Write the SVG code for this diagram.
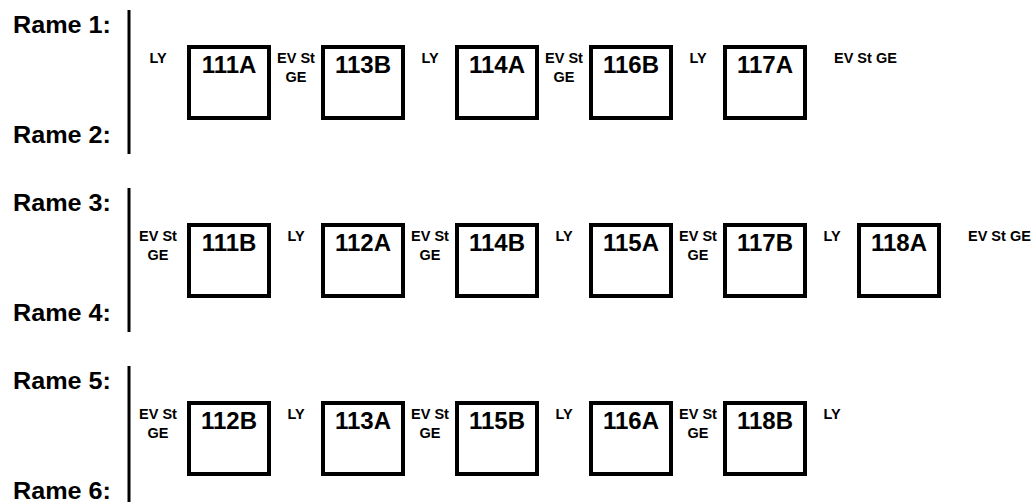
<svg xmlns="http://www.w3.org/2000/svg" width="1036" height="502" viewBox="0 0 1036 502">
<style>
text{font-family:"Liberation Sans",Arial,sans-serif;font-weight:bold;fill:#000}
.rame{font-size:23px}
.box{fill:#fff;stroke:#000;stroke-width:4}
.num{font-size:24px;text-anchor:middle}
.lbl{font-size:14.5px;text-anchor:middle}
.lbls{font-size:14.5px}
.sep{stroke:#000;stroke-width:3;fill:none}
</style>
<rect width="1036" height="502" fill="#fff"/>
<g id="row-labels">
<text class="rame" x="13" y="33" textLength="98" lengthAdjust="spacingAndGlyphs">Rame 1:</text>
<text class="rame" x="13" y="143" textLength="98" lengthAdjust="spacingAndGlyphs">Rame 2:</text>
<text class="rame" x="13" y="211" textLength="98" lengthAdjust="spacingAndGlyphs">Rame 3:</text>
<text class="rame" x="13" y="321" textLength="98" lengthAdjust="spacingAndGlyphs">Rame 4:</text>
<text class="rame" x="13" y="389" textLength="98" lengthAdjust="spacingAndGlyphs">Rame 5:</text>
<text class="rame" x="13" y="499" textLength="98" lengthAdjust="spacingAndGlyphs">Rame 6:</text>
</g>
<g id="connectors">
<line class="sep" x1="129" y1="10" x2="129" y2="154"/>
<line class="sep" x1="129" y1="188" x2="129" y2="332"/>
<line class="sep" x1="129" y1="366" x2="129" y2="502"/>
</g>
<!-- Row 1 -->
<g id="n111A"><rect class="box" x="189" y="47" width="80" height="71"/><text class="num" x="229" y="73">111A</text></g>
<g id="n113B"><rect class="box" x="323" y="47" width="80" height="71"/><text class="num" x="363" y="73">113B</text></g>
<g id="n114A"><rect class="box" x="457" y="47" width="80" height="71"/><text class="num" x="497" y="73">114A</text></g>
<g id="n116B"><rect class="box" x="591" y="47" width="80" height="71"/><text class="num" x="631" y="73">116B</text></g>
<g id="n117A"><rect class="box" x="725" y="47" width="80" height="71"/><text class="num" x="765" y="73">117A</text></g>
<g id="r1-labels">
<text class="lbl" x="158" y="63">LY</text>
<text class="lbl" x="296" y="63">EV St</text><text class="lbl" x="296" y="82">GE</text>
<text class="lbl" x="430" y="63">LY</text>
<text class="lbl" x="564" y="63">EV St</text><text class="lbl" x="564" y="82">GE</text>
<text class="lbl" x="698" y="63">LY</text>
<text class="lbls" x="834" y="63">EV St GE</text>
</g>
<!-- Row 3 -->
<g id="n111B"><rect class="box" x="189" y="225" width="80" height="71"/><text class="num" x="229" y="251">111B</text></g>
<g id="n112A"><rect class="box" x="323" y="225" width="80" height="71"/><text class="num" x="363" y="251">112A</text></g>
<g id="n114B"><rect class="box" x="457" y="225" width="80" height="71"/><text class="num" x="497" y="251">114B</text></g>
<g id="n115A"><rect class="box" x="591" y="225" width="80" height="71"/><text class="num" x="631" y="251">115A</text></g>
<g id="n117B"><rect class="box" x="725" y="225" width="80" height="71"/><text class="num" x="765" y="251">117B</text></g>
<g id="n118A"><rect class="box" x="859" y="225" width="80" height="71"/><text class="num" x="899" y="251">118A</text></g>
<g id="r3-labels">
<text class="lbl" x="158" y="241">EV St</text><text class="lbl" x="158" y="260">GE</text>
<text class="lbl" x="296" y="241">LY</text>
<text class="lbl" x="430" y="241">EV St</text><text class="lbl" x="430" y="260">GE</text>
<text class="lbl" x="564" y="241">LY</text>
<text class="lbl" x="698" y="241">EV St</text><text class="lbl" x="698" y="260">GE</text>
<text class="lbl" x="832" y="241">LY</text>
<text class="lbls" x="968" y="241">EV St GE</text>
</g>
<!-- Row 5 -->
<g id="n112B"><rect class="box" x="189" y="403" width="80" height="71"/><text class="num" x="229" y="429">112B</text></g>
<g id="n113A"><rect class="box" x="323" y="403" width="80" height="71"/><text class="num" x="363" y="429">113A</text></g>
<g id="n115B"><rect class="box" x="457" y="403" width="80" height="71"/><text class="num" x="497" y="429">115B</text></g>
<g id="n116A"><rect class="box" x="591" y="403" width="80" height="71"/><text class="num" x="631" y="429">116A</text></g>
<g id="n118B"><rect class="box" x="725" y="403" width="80" height="71"/><text class="num" x="765" y="429">118B</text></g>
<g id="r5-labels">
<text class="lbl" x="158" y="419">EV St</text><text class="lbl" x="158" y="438">GE</text>
<text class="lbl" x="296" y="419">LY</text>
<text class="lbl" x="430" y="419">EV St</text><text class="lbl" x="430" y="438">GE</text>
<text class="lbl" x="564" y="419">LY</text>
<text class="lbl" x="698" y="419">EV St</text><text class="lbl" x="698" y="438">GE</text>
<text class="lbl" x="832" y="419">LY</text>
</g>
</svg>
